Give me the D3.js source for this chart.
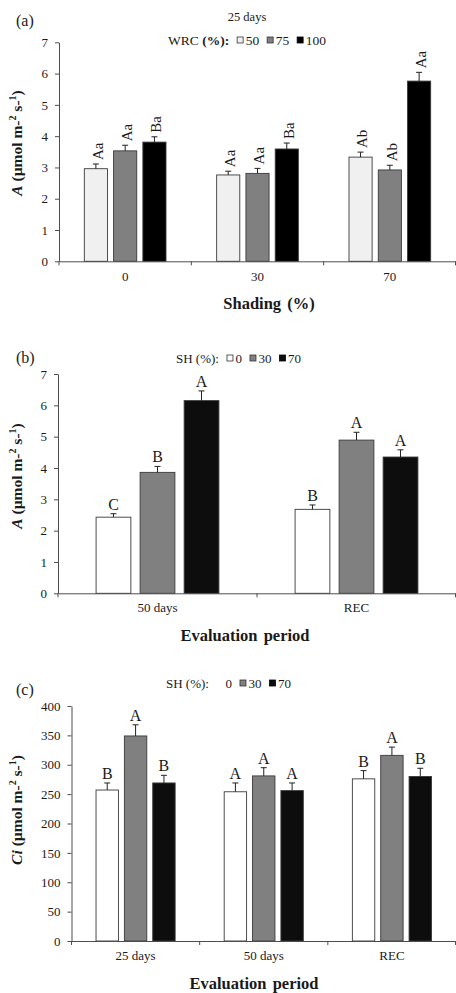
<!DOCTYPE html>
<html>
<head>
<meta charset="utf-8">
<script src="https://cdn.jsdelivr.net/npm/d3@7"></script>
<style>
  body { margin: 0; background: #fff; }
  svg { display: block; font-family: "Liberation Serif", "Times New Roman", serif; }
</style>
</head>
<body>
<svg id="chart" width="456" height="993"></svg>
<script>

/////////////////////////////////////////////////////////////////
// Data
/////////////////////////////////////////////////////////////////

// (a) 25 days, A by shading level and water retention capacity
var shadingCats = ["0", "30", "70"];
var wrcKeys     = ["50", "75", "100"];
var wrc50       = [2.96, 2.76, 3.33];
var wrc75       = [3.53, 2.81, 2.92];
var wrc100      = [3.81, 3.59, 5.76];
var wrc50Err    = [0.15, 0.12, 0.16];
var wrc75Err    = [0.18, 0.16, 0.15];
var wrc100Err   = [0.17, 0.19, 0.28];
var wrc50Lab    = ["Aa", "Aa", "Ab"];
var wrc75Lab    = ["Aa", "Aa", "Ab"];
var wrc100Lab   = ["Ba", "Ba", "Aa"];

// (b) A by evaluation period and shading
var periodsB  = ["50 days", "REC"];
var shKeys    = ["0", "30", "70"];
var aSh0      = [2.43, 2.68];
var aSh30     = [3.86, 4.89];
var aSh70     = [6.15, 4.35];
var aSh0Err   = [0.11, 0.14];
var aSh30Err  = [0.19, 0.25];
var aSh70Err  = [0.31, 0.23];
var aSh0Lab   = ["C", "B"];
var aSh30Lab  = ["B", "A"];
var aSh70Lab  = ["A", "A"];

// (c) Ci by evaluation period and shading
var periodsC  = ["25 days", "50 days", "REC"];
var ciSh0     = [257, 254, 276];
var ciSh30    = [349, 281, 316];
var ciSh70    = [269, 256, 280];
var ciSh0Err  = [12, 15, 14];
var ciSh30Err = [19, 14, 14];
var ciSh70Err = [13, 13, 14];
var ciSh0Lab  = ["B", "A", "B"];
var ciSh30Lab = ["A", "A", "A"];
var ciSh70Lab = ["B", "A", "B"];

var ticksA  = [0, 1, 2, 3, 4, 5, 6, 7];
var ticksCi = [0, 50, 100, 150, 200, 250, 300, 350, 400];

/////////////////////////////////////////////////////////////////
// Styles
/////////////////////////////////////////////////////////////////

var axisColor = "#4d4d4d";
var textColor = "#1a1a1a";
var fillsA    = ["#f0f0f0", "#808080", "#000000"];
var fillsSH   = ["#ffffff", "#808080", "#0d0d0d"];

var svg = d3.select("#chart");
svg.append("rect").attr("width", 456).attr("height", 993).attr("fill", "#fff");

/////////////////////////////////////////////////////////////////
// Y axis title with superscripts
/////////////////////////////////////////////////////////////////

function yTitle(g, italicPart, cx, cy) {
    var t = g.append("text")
        .attr("transform", "translate(" + cx + "," + cy + ") rotate(-90)")
        .attr("text-anchor", "middle")
        .style("font-size", "15.5px")
        .style("font-weight", "bold")
        .attr("fill", textColor);
    t.append("tspan").style("font-style", "italic").text(italicPart);
    t.append("tspan").text(" (\u00b5mol m-");
    t.append("tspan").attr("dy", -6).style("font-size", "10px").text("2");
    t.append("tspan").attr("dy", 6).text(" s-");
    t.append("tspan").attr("dy", -6).style("font-size", "10px").text("1");
    t.append("tspan").attr("dy", 6).text(")");
}

/////////////////////////////////////////////////////////////////
// Legend: title then box + label for each key
/////////////////////////////////////////////////////////////////

function legend(g, title, keys, fills, strokes, x0, yBase, size, boldPct) {
    var t = g.append("text")
        .attr("x", x0).attr("y", yBase)
        .style("font-size", size + "px")
        .attr("fill", textColor);
    if (boldPct) {
        t.append("tspan").text(title + " ");
        t.append("tspan").style("font-weight", "bold").text("(%):");
    } else {
        t.text(title + " (%):");
    }
    var cx = x0 + t.node().getComputedTextLength() + 8;
    keys.forEach(function(k, i) {
        g.append("rect")
            .attr("x", cx).attr("y", yBase - 8)
            .attr("width", 6).attr("height", 6)
            .attr("fill", fills[i])
            .attr("stroke", strokes[i])
            .attr("stroke-width", 0.8);
        var lt = g.append("text")
            .attr("x", cx + 8.5).attr("y", yBase)
            .style("font-size", size + "px")
            .attr("fill", textColor)
            .text(k);
        cx = cx + 8.5 + lt.node().getComputedTextLength() + 8;
    });
}

/////////////////////////////////////////////////////////////////
// Grouped bar panel with error bars and letters
/////////////////////////////////////////////////////////////////

function drawPanel(p) {
    var g = svg.append("g");

    var x = d3.scaleBand()
              .domain(p.cats)
              .range([p.left, 456])
              .paddingInner(0)
              .paddingOuter(0);

    var xs = d3.scaleBand()
               .domain(p.keys)
               .range([0, x.bandwidth()])
               .paddingInner(0.21)
               .paddingOuter(0.865);

    var y = d3.scaleLinear()
              .domain([0, p.yMax])
              .range([p.bottom, p.top]);

    // bars
    p.keys.forEach(function(k, i) {
        var rows = p.cats.map(function(c, j) {
            return {cat: c, v: p.values[i][j], e: p.errs[i][j], lab: p.labels[i][j]};
        });
        var grp = g.append("g");

        grp.selectAll("rect")
           .data(rows)
           .enter().append("rect")
           .attr("x", function(d) { return x(d.cat) + xs(k); })
           .attr("y", function(d) { return y(d.v); })
           .attr("width", xs.bandwidth())
           .attr("height", function(d) { return y(0) - y(d.v); })
           .attr("fill", p.fills[i])
           .attr("stroke", "#3a3a3a")
           .attr("stroke-width", 0.9);

        // error bars, upper side only
        var mid = function(d) { return x(d.cat) + xs(k) + xs.bandwidth() / 2; };
        grp.selectAll("line.err")
           .data(rows)
           .enter().append("line")
           .attr("class", "err")
           .attr("x1", mid).attr("x2", mid)
           .attr("y1", function(d) { return y(d.v); })
           .attr("y2", function(d) { return y(d.v + d.e); })
           .attr("stroke", "#222").attr("stroke-width", 1);
        grp.selectAll("line.cap")
           .data(rows)
           .enter().append("line")
           .attr("class", "cap")
           .attr("x1", function(d) { return mid(d) - 3; })
           .attr("x2", function(d) { return mid(d) + 3; })
           .attr("y1", function(d) { return y(d.v + d.e); })
           .attr("y2", function(d) { return y(d.v + d.e); })
           .attr("stroke", "#222").attr("stroke-width", 1);

        // letters
        grp.selectAll("text")
           .data(rows)
           .enter().append("text")
           .attr("fill", textColor)
           .style("font-size", p.rotate ? "15px" : "16px")
           .attr("text-anchor", p.rotate ? "start" : "middle")
           .attr("dy", p.rotate ? "0.45em" : 0)
           .attr("transform", function(d) {
               if (p.rotate)
                   return "translate(" + mid(d) + "," + (y(d.v + d.e) - 4) + ") rotate(-90)";
               return "translate(" + mid(d) + "," + (y(d.v + d.e) - 4) + ")";
           })
           .text(function(d) { return d.lab; });
    });

    // Y axis
    var gy = g.append("g")
        .attr("transform", "translate(" + p.left + ",0)")
        .call(d3.axisLeft(y)
                .tickValues(p.yTicks)
                .tickFormat(d3.format("d"))
                .tickSize(4)
                .tickPadding(7)
                .tickSizeOuter(0));
    gy.attr("font-family", null).attr("font-size", null);
    gy.select(".domain").attr("stroke", axisColor);
    gy.selectAll(".tick line").attr("stroke", axisColor);
    gy.selectAll(".tick text").style("font-size", "13px").attr("fill", textColor);

    // X axis: labels centred in bands, ticks at band edges
    var gx = g.append("g")
        .attr("transform", "translate(0," + p.bottom + ")")
        .call(d3.axisBottom(x)
                .tickSize(0)
                .tickPadding(p.xPad)
                .tickSizeOuter(0));
    gx.attr("font-family", null).attr("font-size", null);
    gx.select(".domain").attr("stroke", axisColor);
    gx.selectAll(".tick text").style("font-size", "13px").attr("fill", textColor);

    var edges = p.cats.map(function(c) { return x(c); }).concat([x.range()[1] - 0.5]);
    gx.selectAll("line.edge")
      .data(edges)
      .enter().append("line")
      .attr("class", "edge")
      .attr("x1", function(d) { return d; })
      .attr("x2", function(d) { return d; })
      .attr("y1", 0).attr("y2", 4)
      .attr("stroke", axisColor);

    // titles
    g.append("text")
     .attr("x", p.xTitleX).attr("y", p.xTitleY)
     .attr("text-anchor", "middle")
     .style("font-size", "16.5px")
     .style("font-weight", "bold")
     .style("word-spacing", "2px")
     .attr("fill", textColor)
     .text(p.xTitle);

    yTitle(g, p.yItalic, 22, p.yTitleY);

    g.append("text")
     .attr("x", 16).attr("y", p.tagY)
     .style("font-size", "16px")
     .attr("fill", textColor)
     .text(p.tag);

    return g;
}

/////////////////////////////////////////////////////////////////
// Panel (a)
/////////////////////////////////////////////////////////////////

var gA = drawPanel({
    cats: shadingCats, keys: wrcKeys,
    values: [wrc50, wrc75, wrc100],
    errs: [wrc50Err, wrc75Err, wrc100Err],
    labels: [wrc50Lab, wrc75Lab, wrc100Lab],
    fills: fillsA, rotate: true,
    left: 59, top: 42.3, bottom: 261.3, yMax: 7, yTicks: ticksA,
    xPad: 10, xTitle: "Shading (%)", xTitleX: 269, xTitleY: 309,
    yItalic: "A", yTitleY: 143, tag: "(a)", tagY: 26
});

gA.append("text")
  .attr("x", 247).attr("y", 21)
  .attr("text-anchor", "middle")
  .style("font-size", "12.5px")
  .attr("fill", textColor)
  .text("25 days");

legend(gA, "WRC", wrcKeys, fillsA, ["#333", "#333", "#000"], 168, 45, 13.5, true);

/////////////////////////////////////////////////////////////////
// Panel (b)
/////////////////////////////////////////////////////////////////

var gB = drawPanel({
    cats: periodsB, keys: shKeys,
    values: [aSh0, aSh30, aSh70],
    errs: [aSh0Err, aSh30Err, aSh70Err],
    labels: [aSh0Lab, aSh30Lab, aSh70Lab],
    fills: fillsSH, rotate: false,
    left: 58, top: 374, bottom: 593.3, yMax: 7, yTicks: ticksA,
    xPad: 9, xTitle: "Evaluation period", xTitleX: 245, xTitleY: 641,
    yItalic: "A", yTitleY: 476, tag: "(b)", tagY: 363
});

legend(gB, "SH", shKeys, fillsSH, ["#333", "#333", "#000"], 176, 363, 13, false);

/////////////////////////////////////////////////////////////////
// Panel (c)
/////////////////////////////////////////////////////////////////

var gC = drawPanel({
    cats: periodsC, keys: shKeys,
    values: [ciSh0, ciSh30, ciSh70],
    errs: [ciSh0Err, ciSh30Err, ciSh70Err],
    labels: [ciSh0Lab, ciSh30Lab, ciSh70Lab],
    fills: fillsSH, rotate: false,
    left: 71.5, top: 706, bottom: 941, yMax: 400, yTicks: ticksCi,
    xPad: 10, xTitle: "Evaluation period", xTitleX: 254, xTitleY: 989,
    yItalic: "Ci", yTitleY: 810, tag: "(c)", tagY: 695
});

// the 0 entry of this legend shows no box in the original
legend(gC, "SH", shKeys, ["#fff", "#808080", "#0d0d0d"], ["none", "#333", "#000"], 166, 688, 13, false);

</script>
</body>
</html>
